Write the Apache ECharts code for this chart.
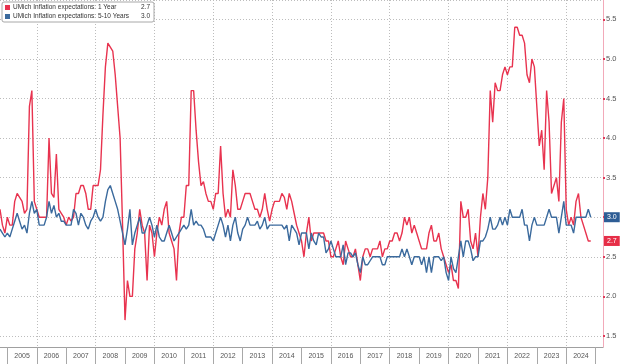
<!DOCTYPE html>
<html>
<head>
<meta charset="utf-8">
<script src="https://cdn.jsdelivr.net/npm/echarts@6/dist/echarts.min.js"></script>
<style>html,body{margin:0;padding:0;background:#fff}#c{width:620px;height:364px}</style>
</head>
<body>
<div id="c"></div>
<script>
// x positions: monthly, Oct 2004 .. Apr 2025 (values plotted at month-end, Bloomberg style)
const startYear = 2004, startMonth = 10, monthCount = 247;
const months = [];
for (let i = 0; i < monthCount; i++) {
  const t = (startMonth - 1) + i;
  const y = startYear + Math.floor(t / 12), m = (t % 12) + 1;
  months.push(y + '-' + (m < 10 ? '0' + m : m));
}
const yearLabels = ['2005','2006','2007','2008','2009','2010','2011','2012','2013','2014','2015','2016','2017','2018','2019','2020','2021','2022','2023','2024'];
const yTicks = [1.5, 2.0, 2.5, 3.0, 3.5, 4.0, 4.5, 5.0, 5.5];

const nameOneYear = 'UMich Inflation expectations: 1 Year';
const nameFiveTen = 'UMich Inflation expectations: 5-10 Years';

const oneYear = [
  3.1, 2.9, 2.8, 3.0, 2.9, 2.9, 3.2, 3.3, 3.25, 3.2, 3.05, 3.1, 4.4,
  4.6, 3.2, 3.1, 3.0, 3.0, 3.0, 3.0, 4.0, 3.3, 3.25,
  3.8, 3.1, 3.05, 3.0, 2.9, 3.0, 2.95, 3.0, 3.3, 3.3,
  3.4, 3.4, 3.3, 3.1, 3.1, 3.4, 3.4, 3.4, 3.6, 4.3,
  4.9, 5.2, 5.15, 5.1, 4.8, 4.4, 4.0, 2.9, 1.7, 2.2,
  2.0, 2.0, 2.6, 2.8, 3.1, 2.9, 2.8, 2.2, 2.9, 2.8,
  2.5, 2.8, 3.0, 2.9, 3.1, 3.2, 2.8, 2.7, 2.6, 2.2,
  2.8, 3.0, 3.0, 3.4, 3.4, 4.6, 4.6, 4.1, 3.7, 3.4,
  3.45, 3.3, 3.2, 3.2, 3.1, 3.3, 3.3, 3.9, 3.3, 3.0,
  3.1, 3.0, 3.6, 3.4, 3.1, 3.1, 3.2, 3.3, 3.3, 3.3,
  3.2, 3.1, 3.1, 3.0, 3.1, 3.3, 3.1, 2.95, 3.1, 3.2,
  3.2, 3.2, 3.3, 3.25, 3.1, 3.3, 3.2, 3.05, 2.9, 2.8,
  2.7, 2.5, 2.8, 3.0, 2.7, 2.8, 2.8, 2.8, 2.8, 2.8,
  2.7, 2.7, 2.5, 2.5, 2.6, 2.7, 2.5, 2.4, 2.7, 2.6,
  2.5, 2.5, 2.6, 2.4, 2.2, 2.5, 2.6, 2.6, 2.5, 2.6,
  2.6, 2.6, 2.7, 2.5, 2.6, 2.6, 2.7, 2.7, 2.8, 2.8,
  2.7, 2.8, 3.0, 2.9, 3.0, 2.8, 2.9, 2.8, 2.7, 2.6,
  2.6, 2.6, 2.8, 2.9, 2.7, 2.7, 2.8, 2.6, 2.5, 2.4,
  2.3, 2.4, 2.2, 2.2, 2.1, 3.2, 3.0, 3.0, 3.1, 2.7,
  2.6, 2.8, 2.5, 3.0, 3.3, 3.1, 3.5, 4.6, 4.2, 4.7,
  4.6, 4.6, 4.8, 4.9, 4.8, 4.9, 4.9, 5.4, 5.4, 5.3,
  5.3, 5.2, 4.8, 4.7, 5.0, 4.9, 4.4, 3.9, 4.1, 3.6,
  4.6, 4.2, 3.3, 3.4, 3.5, 3.2, 4.2, 4.5, 3.1, 2.9,
  3.0, 2.9, 3.2, 3.3, 3.0, 2.9, 2.8, 2.7, 2.7
];

const fiveTenYear = [
  2.85, 2.8, 2.75, 2.8, 2.75, 2.85, 2.95, 3.05, 2.95, 2.85, 2.9, 2.8, 3.05,
  3.2, 3.05, 3.1, 2.9, 2.9, 2.9, 3.0, 3.2, 3.05, 3.15,
  3.0, 3.05, 2.95, 2.95, 2.9, 2.9, 2.9, 3.1, 3.05, 2.9,
  3.05, 3.0, 2.9, 2.85, 2.95, 3.0, 3.1, 3.0, 2.95, 3.0,
  3.2, 3.35, 3.4, 3.3, 3.2, 3.1, 2.95, 2.8, 2.65, 2.85,
  3.1, 2.65, 2.8, 2.9, 3.0, 2.8, 2.8, 2.9, 3.0, 2.9,
  2.75, 2.9, 2.75, 2.7, 2.7, 2.8, 2.9, 2.8, 2.7, 2.75,
  2.8, 2.85, 2.9, 2.85, 2.9, 3.1, 2.9, 2.95, 2.9, 2.9,
  2.85, 2.75, 2.75, 2.75, 2.7, 2.8, 2.9, 3.0, 2.9, 2.75,
  2.9, 2.7, 2.9, 3.0, 2.8, 2.7, 2.85, 2.9, 3.0, 2.9,
  2.9, 2.9, 2.95, 2.85, 2.9, 3.0, 2.85, 2.9, 2.9, 2.9,
  2.9, 2.9, 2.9, 2.85, 2.9, 2.7, 2.9, 2.85, 2.8, 2.65,
  2.8, 2.8, 2.8, 2.6, 2.8, 2.7, 2.65, 2.8, 2.75, 2.75,
  2.55, 2.6, 2.7, 2.6, 2.5, 2.5, 2.5, 2.65, 2.4, 2.55,
  2.55, 2.5, 2.55, 2.4, 2.3, 2.5, 2.4, 2.4, 2.45, 2.5,
  2.5, 2.5, 2.5, 2.4, 2.4, 2.5, 2.5, 2.5, 2.5, 2.5,
  2.5, 2.6, 2.5, 2.6, 2.5, 2.4, 2.5, 2.5, 2.5, 2.4,
  2.5, 2.3, 2.5, 2.3, 2.5, 2.5, 2.5, 2.45, 2.5, 2.3,
  2.2, 2.5, 2.35, 2.3, 2.5, 2.7, 2.5, 2.7, 2.7, 2.6,
  2.45, 2.5, 2.5, 2.7, 2.7, 2.75, 2.85, 3.0, 2.85, 2.85,
  2.9, 3.0, 2.9, 3.0, 2.9, 3.1, 3.0, 3.0, 3.0, 3.0,
  3.1, 2.9, 2.9, 2.7, 2.9, 3.0, 2.9, 2.9, 2.9, 2.9,
  3.0, 3.1, 3.0, 3.0, 3.0, 2.8, 3.0, 3.2, 2.9, 2.9,
  2.9, 2.8, 3.0, 3.0, 3.0, 3.0, 3.0, 3.1, 3.0
];

const RED = '#e8334f', BLUE = '#3b6a9d';
const lastRed = oneYear[oneYear.length - 1];
const lastBlue = fiveTenYear[fiveTenYear.length - 1];
const FONT = 'Liberation Sans';

function endTag(value, color) {
  return {
    symbol: ['none', 'none'], silent: true, animation: false,
    lineStyle: { color: 'rgba(0,0,0,0)', width: 1, type: 'solid' },
    label: {
      show: true, position: 'end', distance: 1, formatter: value.toFixed(1),
      backgroundColor: color, color: '#fff', fontSize: 7, fontFamily: FONT,
      padding: [2, 3, 1, 3], opacity: 1
    },
    emphasis: { disabled: true },
    data: [{ yAxis: value }]
  };
}

const gridLine = { type: [1, 2], color: '#bdbdbd', width: 1 };

const chart = echarts.init(document.getElementById('c'), null, { renderer: 'canvas' });
chart.setOption({
  animation: false,
  backgroundColor: '#fff',
  textStyle: { fontFamily: FONT },
  grid: { left: 0, right: 17, top: 0, bottom: 17, containLabel: false },
  legend: {
    left: 2, top: 2, orient: 'vertical', icon: 'rect',
    itemWidth: 5, itemHeight: 5, itemGap: 2,
    padding: [2, 4, 2, 3],
    backgroundColor: '#fff', borderColor: '#a8a8a8', borderWidth: 1, borderRadius: 2,
    data: [nameOneYear, nameFiveTen],
    formatter: function (name) {
      const v = name === nameOneYear ? lastRed : lastBlue;
      return '{n|' + name + '}{v|' + v.toFixed(1) + '}';
    },
    textStyle: {
      fontFamily: FONT, fontSize: 6.5, color: '#333', padding: [0, 0, 0, -2],
      rich: {
        n: { width: 124, fontSize: 6.5, color: '#333', fontFamily: FONT },
        v: { width: 13, align: 'right', fontSize: 6.5, color: '#333', fontFamily: FONT }
      }
    }
  },
  xAxis: {
    type: 'category', data: months, boundaryGap: false,
    axisLine: { lineStyle: { color: '#a0a0a0', width: 1 } },
    axisTick: { interval: (i, v) => v.slice(5) === '01', length: 17, lineStyle: { color: '#a8a8a8' } },
    axisLabel: {
      interval: (i, v) => v.slice(5) === '07' && yearLabels.indexOf(v.slice(0, 4)) >= 0,
      formatter: v => v.slice(0, 4), color: '#555', fontSize: 7, margin: 6, fontFamily: FONT
    },
    splitLine: {
      show: true,
      interval: (i, v) => v.slice(5) === '01' && (+v.slice(0, 4)) % 2 === 0,
      lineStyle: gridLine
    }
  },
  yAxis: {
    type: 'value', position: 'right', min: 1.36, max: 5.745, splitNumber: 9,
    axisLine: { show: true, lineStyle: { color: '#f2a9b9', width: 1 } },
    axisTick: { show: true, length: 2, inside: false, lineStyle: { color: '#e03a58', width: 2 } },
    axisLabel: {
      showMinLabel: false, showMaxLabel: false, margin: 3,
      color: '#555', fontSize: 7.5, fontFamily: FONT,
      formatter: v => (yTicks.indexOf(+v.toFixed(2)) >= 0 ? v.toFixed(1) : '')
    },
    splitLine: { show: true, lineStyle: gridLine }
  },
  series: [
    {
      name: nameOneYear, type: 'line', data: oneYear, showSymbol: false,
      lineStyle: { color: RED, width: 1.4 }, itemStyle: { color: RED },
      markLine: endTag(lastRed, '#e62e47')
    },
    {
      name: nameFiveTen, type: 'line', data: fiveTenYear, showSymbol: false,
      lineStyle: { color: BLUE, width: 1.4 }, itemStyle: { color: BLUE },
      markLine: endTag(lastBlue, '#2e5d95')
    }
  ]
});
</script>
</body>
</html>
